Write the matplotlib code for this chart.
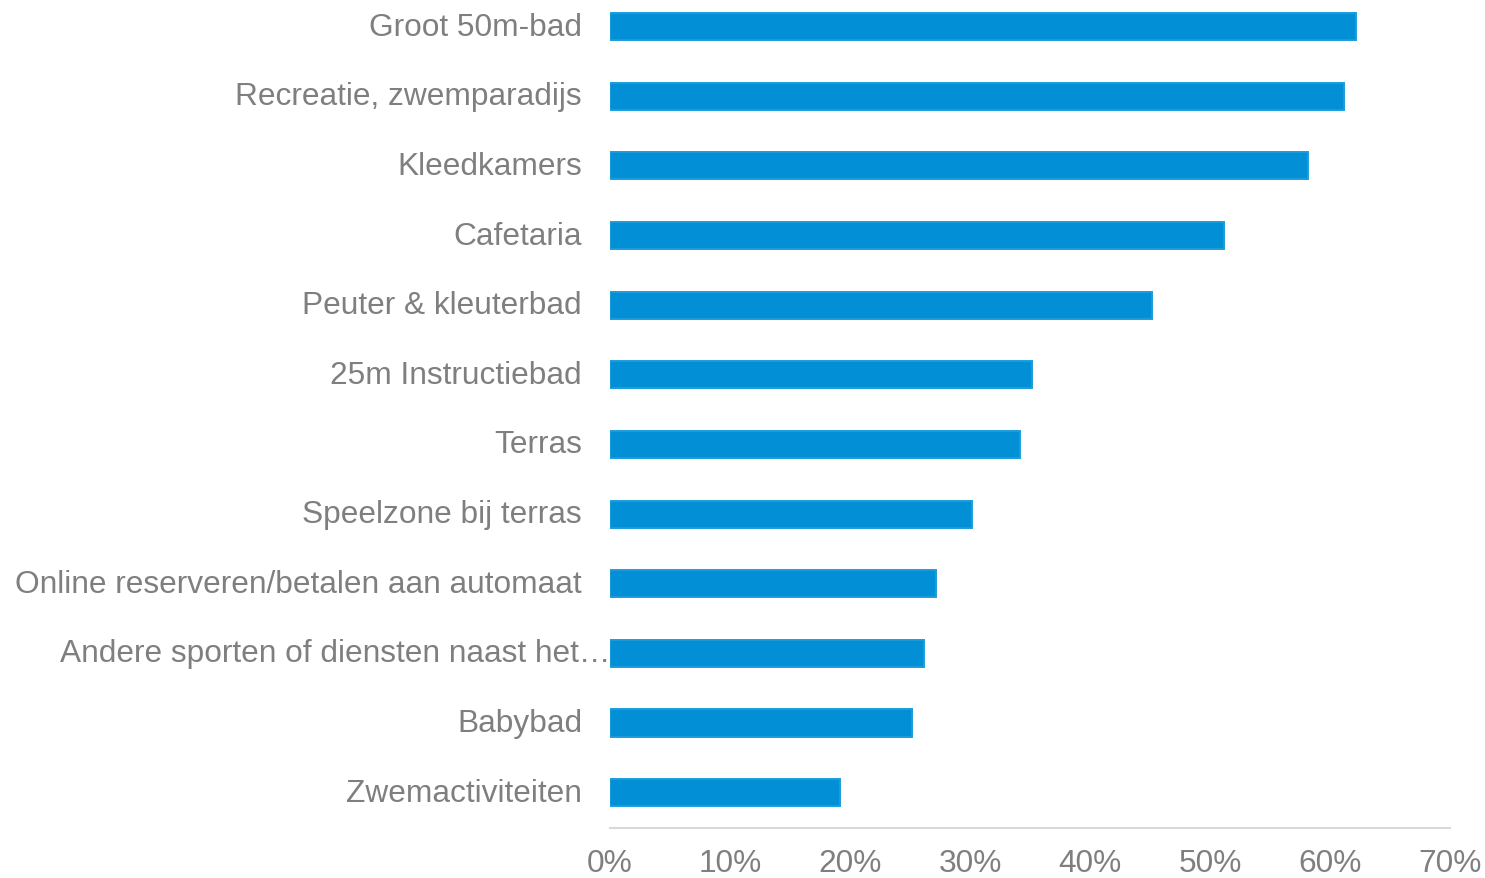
import matplotlib
matplotlib.use("Agg")
import matplotlib.pyplot as plt
from matplotlib.transforms import ScaledTranslation, blended_transform_factory

categories = [
    "Groot 50m-bad",
    "Recreatie, zwemparadijs",
    "Kleedkamers",
    "Cafetaria",
    "Peuter & kleuterbad",
    "25m Instructiebad",
    "Terras",
    "Speelzone bij terras",
    "Online reserveren/betalen aan automaat",
    "Andere sporten of diensten naast het…",
    "Babybad",
    "Zwemactiviteiten",
]
values = [62.2, 61.2, 58.2, 51.2, 45.2, 35.2, 34.2, 30.2, 27.2, 26.2, 25.2, 19.2]
xticks = [0, 10, 20, 30, 40, 50, 60, 70]
xticklabels = [f"{t}%" for t in xticks]

plt.rcParams['font.family'] = ['Liberation Sans', 'DejaVu Sans']
W, H = 1485, 879
fig = plt.figure(figsize=(W / 100, H / 100), dpi=100)
ax = fig.add_axes([610 / W, (H - 828.5) / H, 840 / W, 12 * 69.64 / H])

n = len(categories)
ypos = list(range(n))
ax.barh(ypos, values, height=0.39, color="#038FD6", edgecolor="#1A9DDD", linewidth=1.4)
ax.set_ylim(n - 0.5, -0.5)
ax.set_xlim(0, 70)

for s in ["top", "right", "left"]:
    ax.spines[s].set_visible(False)
ax.spines["bottom"].set_color("#D9D9D9")
ax.spines["bottom"].set_linewidth(1.5)

FS = 22.8
ax.set_xticks(xticks)
ax.set_xticklabels(xticklabels, fontsize=FS, color="#7F7F7F")
ax.tick_params(axis="x", length=0, pad=15)
ax.set_yticks([])

trans = blended_transform_factory(ax.transAxes, ax.transData)
for i, lab in enumerate(categories):
    off = 0 if lab.endswith("…") else -28 / 100
    t = trans + ScaledTranslation(off, 0, fig.dpi_scale_trans)
    ax.text(0, i, lab, transform=t, ha="right", va="center",
            fontsize=FS, color="#7F7F7F")

fig.savefig("out.png", dpi=100)
